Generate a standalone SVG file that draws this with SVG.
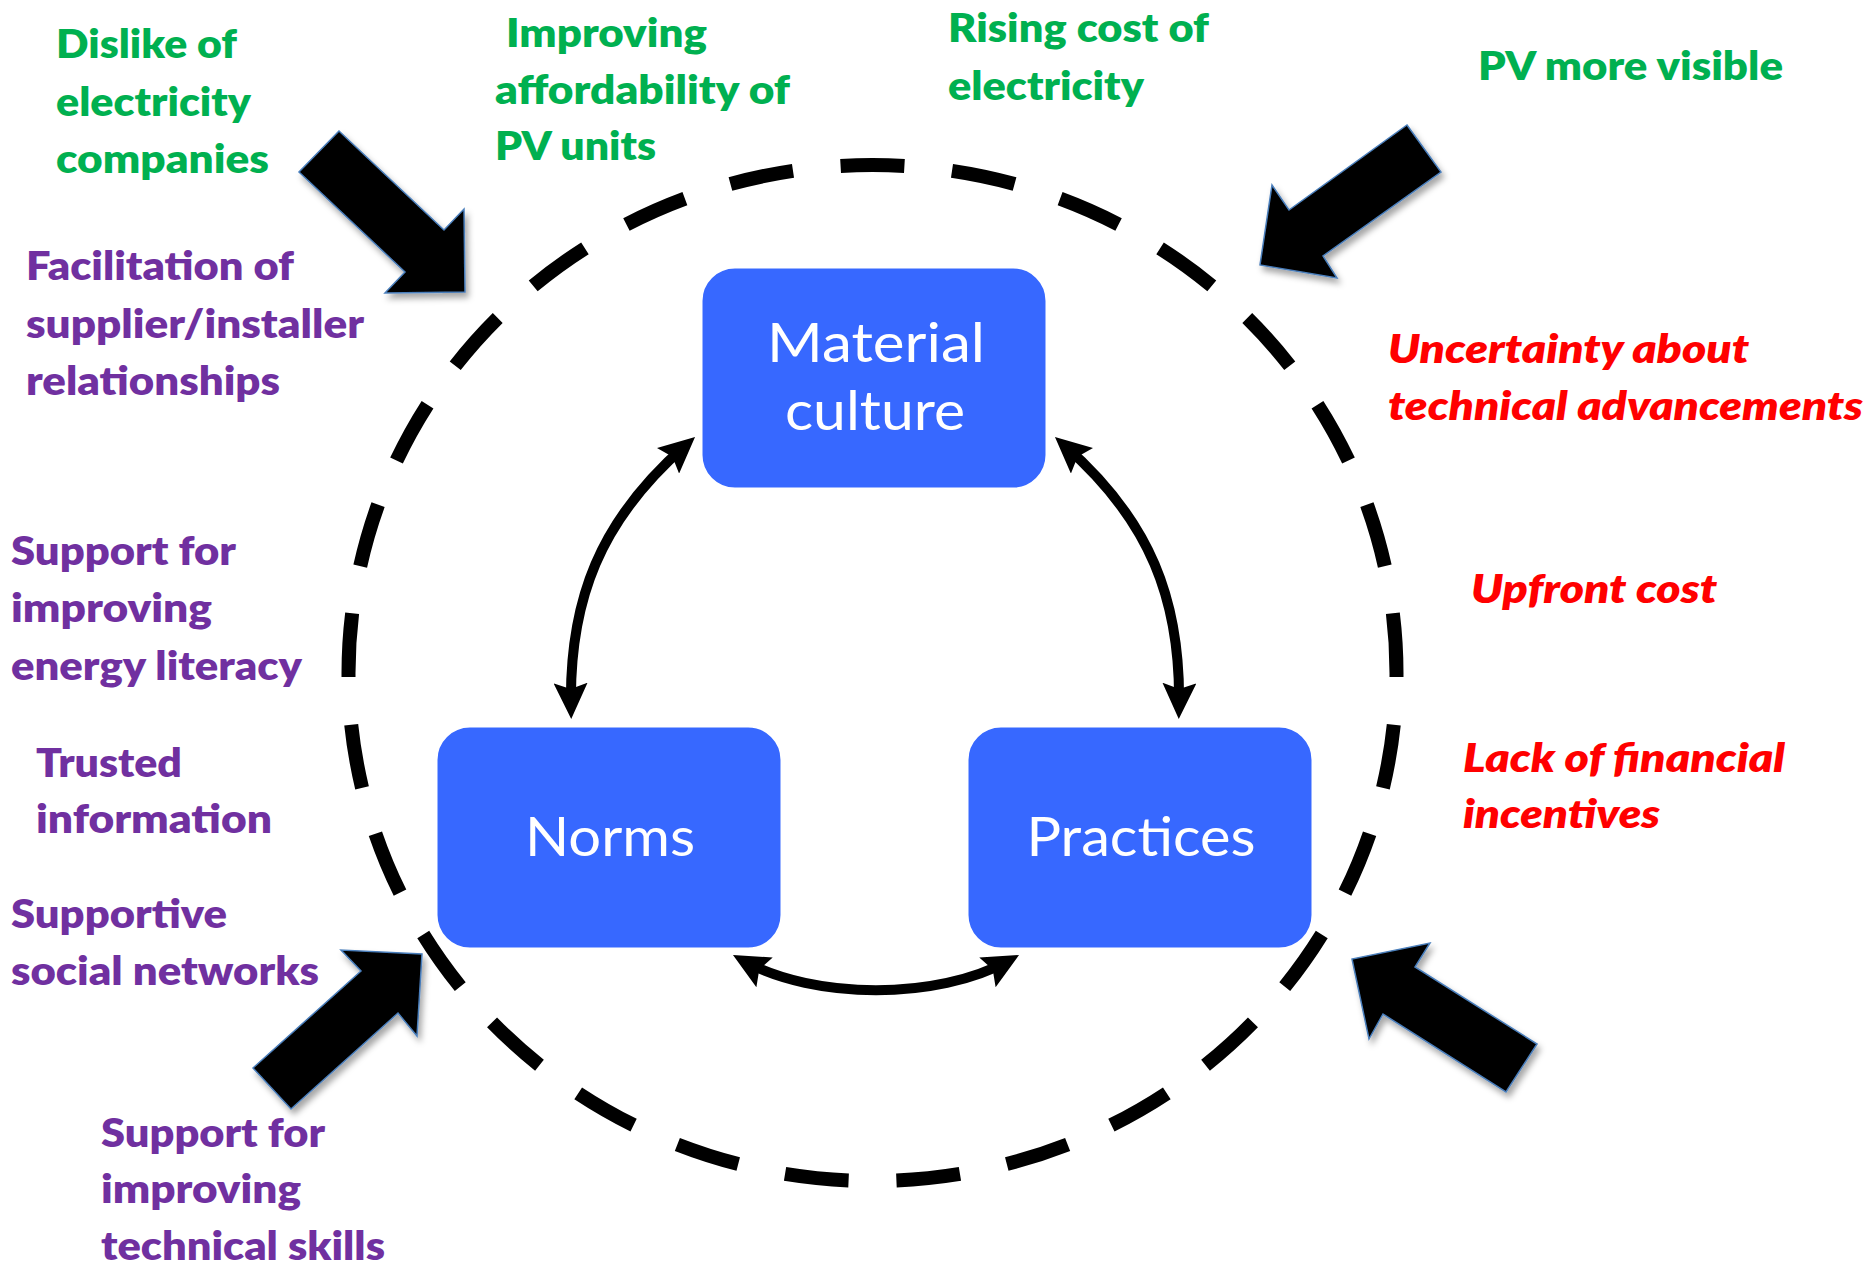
<svg xmlns="http://www.w3.org/2000/svg" width="1870" height="1269" viewBox="0 0 1870 1269">
  <style>
    .lbl { font-family: Lato, "Noto Sans", "Liberation Sans", sans-serif; font-weight: 800; font-size: 40px; }
    .green { fill: #00B050; }
    .purple { fill: #7030A0; }
    .red { fill: #FF0000; font-style: italic; }
    .box { fill: #3768FF; stroke: #ffffff; stroke-width: 3; }
    .boxt { font-family: Lato, "Noto Sans", "Liberation Sans", sans-serif; font-weight: 400; font-size: 54px; fill: #ffffff; text-anchor: middle; }
    .block { fill: #000000; stroke: #4A7EBB; stroke-width: 1.5; stroke-linejoin: miter; filter: url(#shadow); }
    .conn { fill: none; stroke: #000000; stroke-width: 10; marker-start: url(#ah); marker-end: url(#ah); }
  </style>
  <defs>
    <filter id="shadow" x="-20%" y="-20%" width="150%" height="150%">
      <feDropShadow dx="3" dy="5" stdDeviation="3" flood-color="#000000" flood-opacity="0.35"/>
    </filter>
    <marker id="ah" markerUnits="userSpaceOnUse" viewBox="0 0 36 34" markerWidth="36" markerHeight="34" refX="24" refY="17" orient="auto-start-reverse">
      <path d="M0,0 L36,17 L0,34 L6,17 z" fill="#000000"/>
    </marker>
  </defs>
  <rect width="1870" height="1269" fill="#ffffff"/>

  <g id="boundary">
    <path d="M 872.5 165 A 524 508 0 0 1 1396.5 673 A 524 508 0 0 1 872.5 1181 A 524 508 0 0 1 348.5 673 A 524 508 0 0 1 872.5 165 Z" pathLength="2900" fill="none" stroke="#000000" stroke-width="14" stroke-dasharray="57.2 42.8" stroke-dashoffset="28.6"/>
  </g>

  <g id="influence-arrows">
    <polygon class="block" points="339,131 299,172 405,272 385,293 465,292 464,209 444,230"/>
    <polygon class="block" points="1407,125 1441,172 1323,256 1337,278 1260,265 1272,185 1289,210"/>
    <polygon class="block" points="253,1068 291,1109 398,1013 417,1036 422,954 341,950 361,971"/>
    <polygon class="block" points="1537,1044 1506,1092 1383,1014 1369,1039 1352,959 1430,943 1415,967"/>
  </g>

  <g id="connectors">
    <path class="conn" d="M 571 707 C 569 600, 600 520, 686 445"/>
    <path class="conn" d="M 1179 707 C 1181 600, 1150 520, 1064 445"/>
    <path class="conn" d="M 743.5 960.8 C 815 1000, 937 1000, 1008.5 960.8"/>
  </g>

  <g id="node-material-culture">
    <rect class="box" x="701" y="267" width="346" height="222" rx="34" ry="34"/>
    <text class="boxt" x="876" y="362" textLength="218" lengthAdjust="spacingAndGlyphs">Material</text>
    <text class="boxt" x="875" y="430" textLength="180" lengthAdjust="spacingAndGlyphs">culture</text>
  </g>
  <g id="node-norms">
    <rect class="box" x="436" y="726" width="346" height="223" rx="34" ry="34"/>
    <text class="boxt" x="610" y="856" textLength="170" lengthAdjust="spacingAndGlyphs">Norms</text>
  </g>
  <g id="node-practices">
    <rect class="box" x="967" y="726" width="346" height="223" rx="34" ry="34"/>
    <text class="boxt" x="1141" y="856" textLength="229" lengthAdjust="spacingAndGlyphs">Practices</text>
  </g>

  <g id="label-dislike" class="lbl green">
    <text x="56" y="58" textLength="181" lengthAdjust="spacingAndGlyphs">Dislike of</text>
    <text x="56" y="116" textLength="195" lengthAdjust="spacingAndGlyphs">electricity</text>
    <text x="56" y="173" textLength="213" lengthAdjust="spacingAndGlyphs">companies</text>
  </g>
  <g id="label-affordability" class="lbl green">
    <text x="506" y="47" textLength="201" lengthAdjust="spacingAndGlyphs">Improving</text>
    <text x="495" y="104" textLength="295" lengthAdjust="spacingAndGlyphs">affordability of</text>
    <text x="495" y="160" textLength="161" lengthAdjust="spacingAndGlyphs">PV units</text>
  </g>
  <g id="label-rising-cost" class="lbl green">
    <text x="948" y="42" textLength="261" lengthAdjust="spacingAndGlyphs">Rising cost of</text>
    <text x="948" y="100" textLength="196" lengthAdjust="spacingAndGlyphs">electricity</text>
  </g>
  <g id="label-pv-visible" class="lbl green">
    <text x="1478" y="80" textLength="305" lengthAdjust="spacingAndGlyphs">PV more visible</text>
  </g>

  <g id="label-facilitation" class="lbl purple">
    <text x="26" y="280" textLength="268" lengthAdjust="spacingAndGlyphs">Facilitation of</text>
    <text x="26" y="338" textLength="338" lengthAdjust="spacingAndGlyphs">supplier/installer</text>
    <text x="26" y="395" textLength="254" lengthAdjust="spacingAndGlyphs">relationships</text>
  </g>
  <g id="label-energy-literacy" class="lbl purple">
    <text x="11" y="565" textLength="225" lengthAdjust="spacingAndGlyphs">Support for</text>
    <text x="11" y="622" textLength="201" lengthAdjust="spacingAndGlyphs">improving</text>
    <text x="11" y="680" textLength="291" lengthAdjust="spacingAndGlyphs">energy literacy</text>
  </g>
  <g id="label-trusted" class="lbl purple">
    <text x="36" y="777" textLength="146" lengthAdjust="spacingAndGlyphs">Trusted</text>
    <text x="36" y="833" textLength="236" lengthAdjust="spacingAndGlyphs">information</text>
  </g>
  <g id="label-social" class="lbl purple">
    <text x="11" y="928" textLength="216" lengthAdjust="spacingAndGlyphs">Supportive</text>
    <text x="11" y="985" textLength="308" lengthAdjust="spacingAndGlyphs">social networks</text>
  </g>
  <g id="label-technical-skills" class="lbl purple">
    <text x="101" y="1147" textLength="224" lengthAdjust="spacingAndGlyphs">Support for</text>
    <text x="101" y="1203" textLength="200" lengthAdjust="spacingAndGlyphs">improving</text>
    <text x="101" y="1260" textLength="284" lengthAdjust="spacingAndGlyphs">technical skills</text>
  </g>

  <g id="label-uncertainty" class="lbl red">
    <text x="1388" y="363" textLength="361" lengthAdjust="spacingAndGlyphs">Uncertainty about</text>
    <text x="1388" y="420" textLength="475" lengthAdjust="spacingAndGlyphs">technical advancements</text>
  </g>
  <g id="label-upfront" class="lbl red">
    <text x="1471" y="603" textLength="246" lengthAdjust="spacingAndGlyphs">Upfront cost</text>
  </g>
  <g id="label-incentives" class="lbl red">
    <text x="1463" y="772" textLength="322" lengthAdjust="spacingAndGlyphs">Lack of financial</text>
    <text x="1463" y="828" textLength="197" lengthAdjust="spacingAndGlyphs">incentives</text>
  </g>
</svg>
